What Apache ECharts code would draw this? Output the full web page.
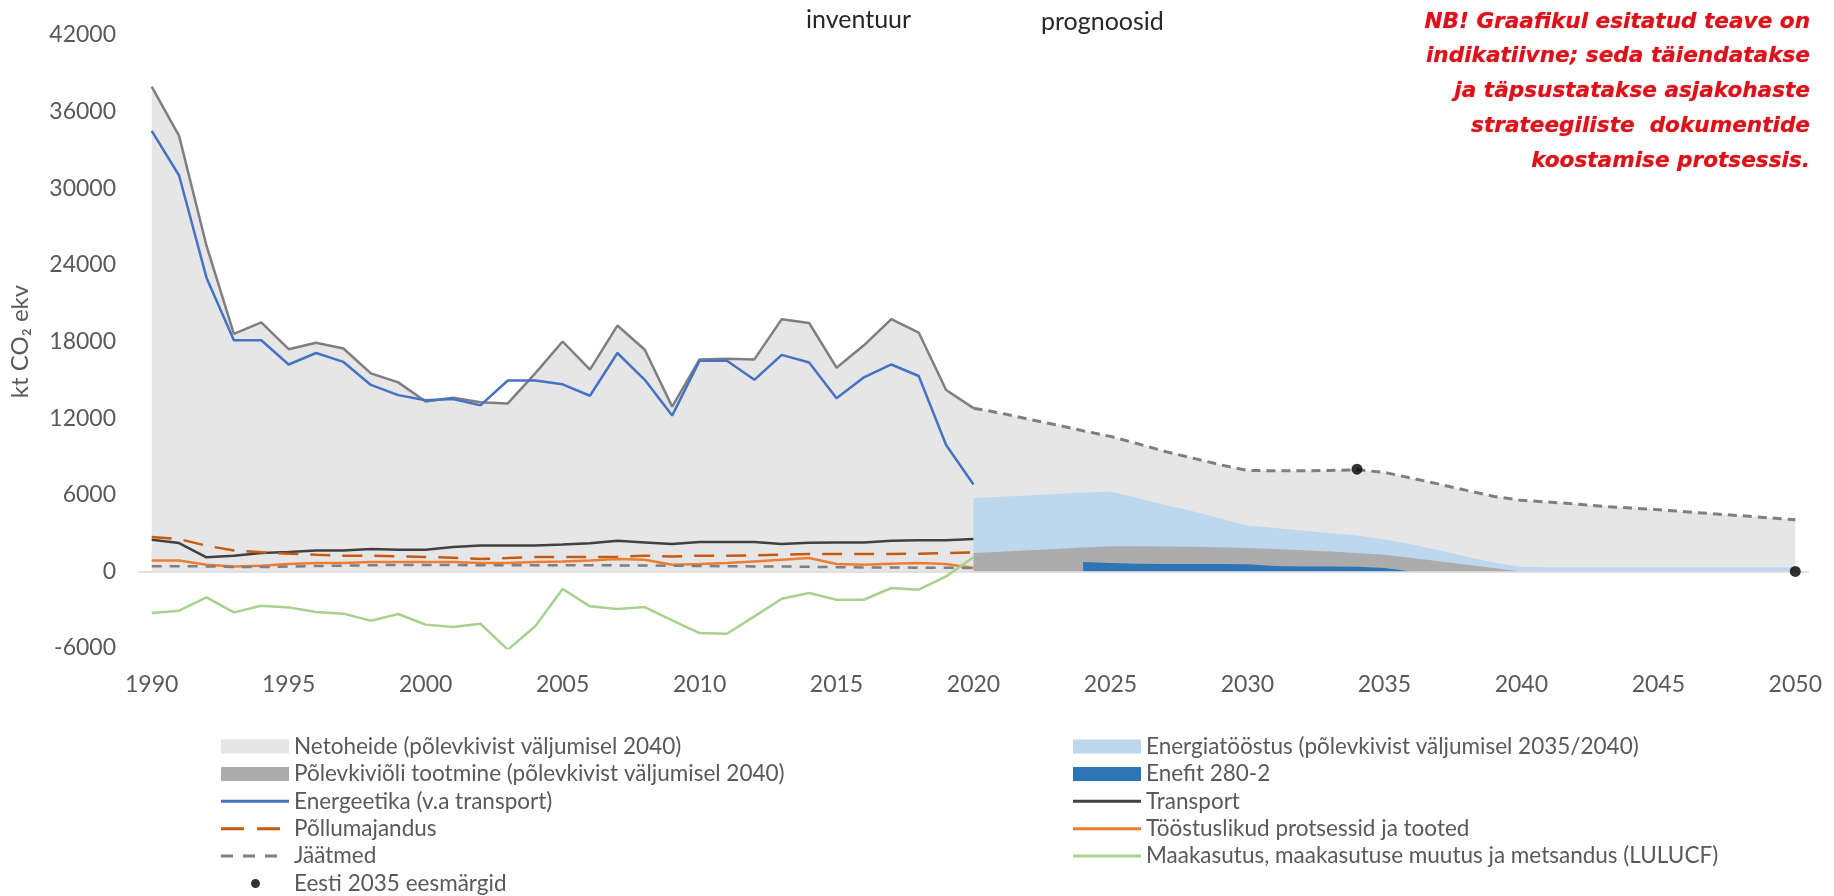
<!DOCTYPE html>
<html><head><meta charset="utf-8">
<script src="https://cdn.jsdelivr.net/npm/echarts@6/dist/echarts.min.js"></script>
<style>html,body{margin:0;padding:0;background:#fff}#c{width:1834px;height:896px}</style>
</head><body><div id="c"></div>
<script>
// Categories
const years = ['1990','1991','1992','1993','1994','1995','1996','1997','1998','1999',
  '2000','2001','2002','2003','2004','2005','2006','2007','2008','2009',
  '2010','2011','2012','2013','2014','2015','2016','2017','2018','2019',
  '2020','2021','2022','2023','2024','2025','2026','2027','2028','2029',
  '2030','2031','2032','2033','2034','2035','2036','2037','2038','2039',
  '2040','2041','2042','2043','2044','2045','2046','2047','2048','2049','2050'];

// Inventory 1990-2020
const totalHist = [37950,34100,25500,18600,19500,17400,17900,17450,15500,14800,
  13300,13600,13250,13150,15500,18000,15800,19250,17350,12900,
  16600,16650,16600,19750,19450,15950,17700,19750,18700,14200,12780];
const energeetika = [34500,31000,23000,18100,18100,16200,17100,16400,14600,13800,
  13400,13500,13000,14950,14950,14650,13750,17100,15000,12200,
  16500,16500,15000,16950,16350,13550,15200,16200,15300,9900,6800];
const transport = [2480,2220,1100,1230,1430,1510,1640,1640,1750,1700,
  1700,1900,2030,2030,2030,2100,2200,2400,2270,2140,
  2300,2300,2300,2150,2250,2270,2270,2400,2430,2430,2530];
const pollumajandus = [2690,2530,2010,1640,1490,1380,1300,1230,1230,1170,
  1120,1070,970,1040,1120,1120,1120,1150,1230,1170,
  1230,1230,1250,1300,1360,1360,1360,1360,1380,1430,1490];
const toostus = [860,860,520,390,440,570,650,650,730,730,
  730,730,650,650,730,780,860,970,910,520,
  570,650,780,910,1040,570,520,600,650,570,260];
const jaatmed = [400,400,390,340,340,380,420,450,480,500,
  500,500,480,480,480,470,470,470,460,440,
  420,400,390,380,360,330,310,300,290,280,260];
const lulucf = [-3250,-3080,-2030,-3210,-2690,-2820,-3180,-3310,-3860,-3340,
  -4170,-4360,-4100,-6130,-4300,-1380,-2740,-2950,-2790,-3830,
  -4830,-4880,-3520,-2140,-1700,-2220,-2220,-1300,-1430,-390,1100];

// Projections
const netProj = [12780,12390,11920,11480,11010,10570,9990,9390,8870,8350,
  7900,7880,7880,7900,7960,7750,7300,6830,6340,5870,
  5560,5430,5270,5090,4960,4830,4670,4510,4360,4200,4040]; // 2020-2050
const energiatoostus = [5740,5850,5950,6050,6150,6260,5750,5200,4700,4150,
  3600,3400,3200,3000,2800,2500,2100,1650,1150,700,
  350,330,330,330,330,330,330,330,330,330,330]; // 2020-2050
const polevkivioli = [1430,1540,1650,1760,1870,1960,1960,1950,1920,1880,
  1830,1750,1650,1550,1430,1300,1050,800,520,260,0]; // 2020-2040
const enefit = [730,650,600,570,570,570,550,420,390,390,370,260,0]; // 2024-2036
const targetYears = ['2034','2050'];
const targetValues = [8000, 0];

const noteLines = [
  'NB! Graafikul esitatud teave on',
  'indikatiivne; seda täiendatakse',
  'ja täpsustatakse asjakohaste',
  'strateegiliste  dokumentide',
  'koostamise protsessis.'
];

function place(startYear, vals) {
  const arr = years.map(() => null);
  const off = years.indexOf(String(startYear));
  vals.forEach((v, i) => { arr[off + i] = v; });
  return arr;
}

const FONT = 'Lato';
const netoheide = place(1990, totalHist.concat(netProj.slice(1)));

const base = { type: 'line', symbol: 'none', silent: true, emphasis: { disabled: true }, animation: false };
const area = (name, data, color, z) => Object.assign({}, base, {
  name, data, z,
  itemStyle: { color }, lineStyle: { width: 0, color },
  areaStyle: { color, opacity: 1 }
});
const line = (name, data, color, width, type, z) => Object.assign({}, base, {
  name, data, z: z || 5,
  itemStyle: { color }, lineStyle: { width, color, type: type || 'solid' }
});

const netSeries = area('Netoheide (põlevkivist väljumisel 2040)', netoheide, '#e7e6e6', 1);
netSeries.markLine = { silent: true, symbol: 'none', label: { show: false }, animation: false,
  lineStyle: { color: '#d9d9d9', width: 1.5, type: 'solid' }, data: [{ yAxis: 0 }] };

const series = [
  netSeries,
  area('Energiatööstus (põlevkivist väljumisel 2035/2040)', place(2020, energiatoostus), '#bdd7ee', 2),
  area('Põlevkiviõli tootmine (põlevkivist väljumisel 2040)', place(2020, polevkivioli), '#acacac', 3),
  area('Enefit 280-2', place(2024, enefit), '#2e75b6', 4),
  line('Koguheide', place(1990, totalHist), '#7f7f7f', 2.5, 'solid', 5),
  line('Netoheide prognoos', place(2020, netProj), '#7f7f7f', 3, [9, 6], 5),
  line('Energeetika (v.a transport)', place(1990, energeetika), '#4472c4', 2.5, 'solid', 6),
  line('Transport', place(1990, transport), '#404040', 2.5, 'solid', 6),
  line('Põllumajandus', place(1990, pollumajandus), '#c55a11', 2.5, [20, 12], 6),
  line('Tööstuslikud protsessid ja tooted', place(1990, toostus), '#ed7d31', 2.5, 'solid', 6),
  line('Jäätmed', place(1990, jaatmed), '#7f7f7f', 2.5, [10, 8], 6),
  line('Maakasutus, maakasutuse muutus ja metsandus (LULUCF)', place(1990, lulucf), '#a9d18e', 2.5, 'solid', 6),
  { type: 'scatter', name: 'Eesti 2035 eesmärgid', silent: true, animation: false, z: 10,
    symbolSize: 11, itemStyle: { color: '#000' },
    data: targetYears.map((y, i) => [y, targetValues[i]]) }
];

const ICON_SOLID = 'path://M0 0h68v3H0z';
const ICON_LONGDASH = 'path://M0 0h23v3H0z M36 0h23v3H36z M68 0h0v3h0z';
const ICON_DASH = 'path://M0 0h12v3H0z M22 0h12v3H22z M44 0h12v3H44z M68 0h0v3h0z';
const ICON_DOT = 'path://M0 0h0v0z M68 14h0v0z M30 7a4.5 4.5 0 1 0 9 0a4.5 4.5 0 1 0 -9 0z';

const legendText = { color: '#595959', fontSize: 22.5, fontFamily: FONT, lineHeight: 23 };
const legendCommon = { orient: 'vertical', align: 'left', selectedMode: false, itemWidth: 68, itemHeight: 14,
  itemGap: 4.4, textStyle: legendText, top: 735, symbolKeepAspect: true, padding: 0 };

const chart = echarts.init(document.getElementById('c'), null, { renderer: 'canvas' });
chart.setOption({
  animation: false,
  backgroundColor: '#fff',
  grid: { left: 138, right: 25, top: 35, bottom: 248, containLabel: false },
  xAxis: {
    type: 'category', data: years, boundaryGap: true,
    axisLine: { show: false, onZero: false }, axisTick: { show: false },
    axisLabel: { interval: 4, color: '#595959', fontSize: 23, fontFamily: FONT, margin: 25 }
  },
  yAxis: {
    type: 'value', min: -6000, max: 42000, interval: 6000,
    splitLine: { show: false }, axisLine: { show: false }, axisTick: { show: false },
    axisLabel: { color: '#595959', fontSize: 23, fontFamily: FONT, margin: 22, formatter: v => String(v) },
    name: 'kt CO₂ ekv', nameLocation: 'middle', nameGap: 106, nameRotate: 90,
    nameTextStyle: { color: '#595959', fontSize: 24, fontFamily: FONT }
  },
  legend: [
    Object.assign({}, legendCommon, { left: 221, data: [
      { name: 'Netoheide (põlevkivist väljumisel 2040)', icon: 'rect' },
      { name: 'Põlevkiviõli tootmine (põlevkivist väljumisel 2040)', icon: 'rect' },
      { name: 'Energeetika (v.a transport)', icon: ICON_SOLID },
      { name: 'Põllumajandus', icon: ICON_LONGDASH },
      { name: 'Jäätmed', icon: ICON_DASH },
      { name: 'Eesti 2035 eesmärgid', icon: ICON_DOT }
    ] }),
    Object.assign({}, legendCommon, { left: 1073, data: [
      { name: 'Energiatööstus (põlevkivist väljumisel 2035/2040)', icon: 'rect' },
      { name: 'Enefit 280-2', icon: 'rect' },
      { name: 'Transport', icon: ICON_SOLID },
      { name: 'Tööstuslikud protsessid ja tooted', icon: ICON_SOLID },
      { name: 'Maakasutus, maakasutuse muutus ja metsandus (LULUCF)', icon: ICON_SOLID }
    ] })
  ],
  graphic: [
    { type: 'text', left: 806, top: 7, style: { text: 'inventuur', fill: '#262626', font: '25px Lato' } },
    { type: 'text', left: 1041, top: 9, style: { text: 'prognoosid', fill: '#262626', font: '25px Lato' } },
    { type: 'group', right: 24, top: 11, children: noteLines.map((t, i) => ({ type: 'text', x: 0, y: i * 34.8,
        style: { text: t, align: 'right', fill: '#e0101a', font: 'italic bold 21.6px "DejaVu Sans"',
          textShadowColor: 'rgba(90,0,0,0.45)', textShadowBlur: 1.5 } })) }
  ],
  series
});
</script></body></html>
